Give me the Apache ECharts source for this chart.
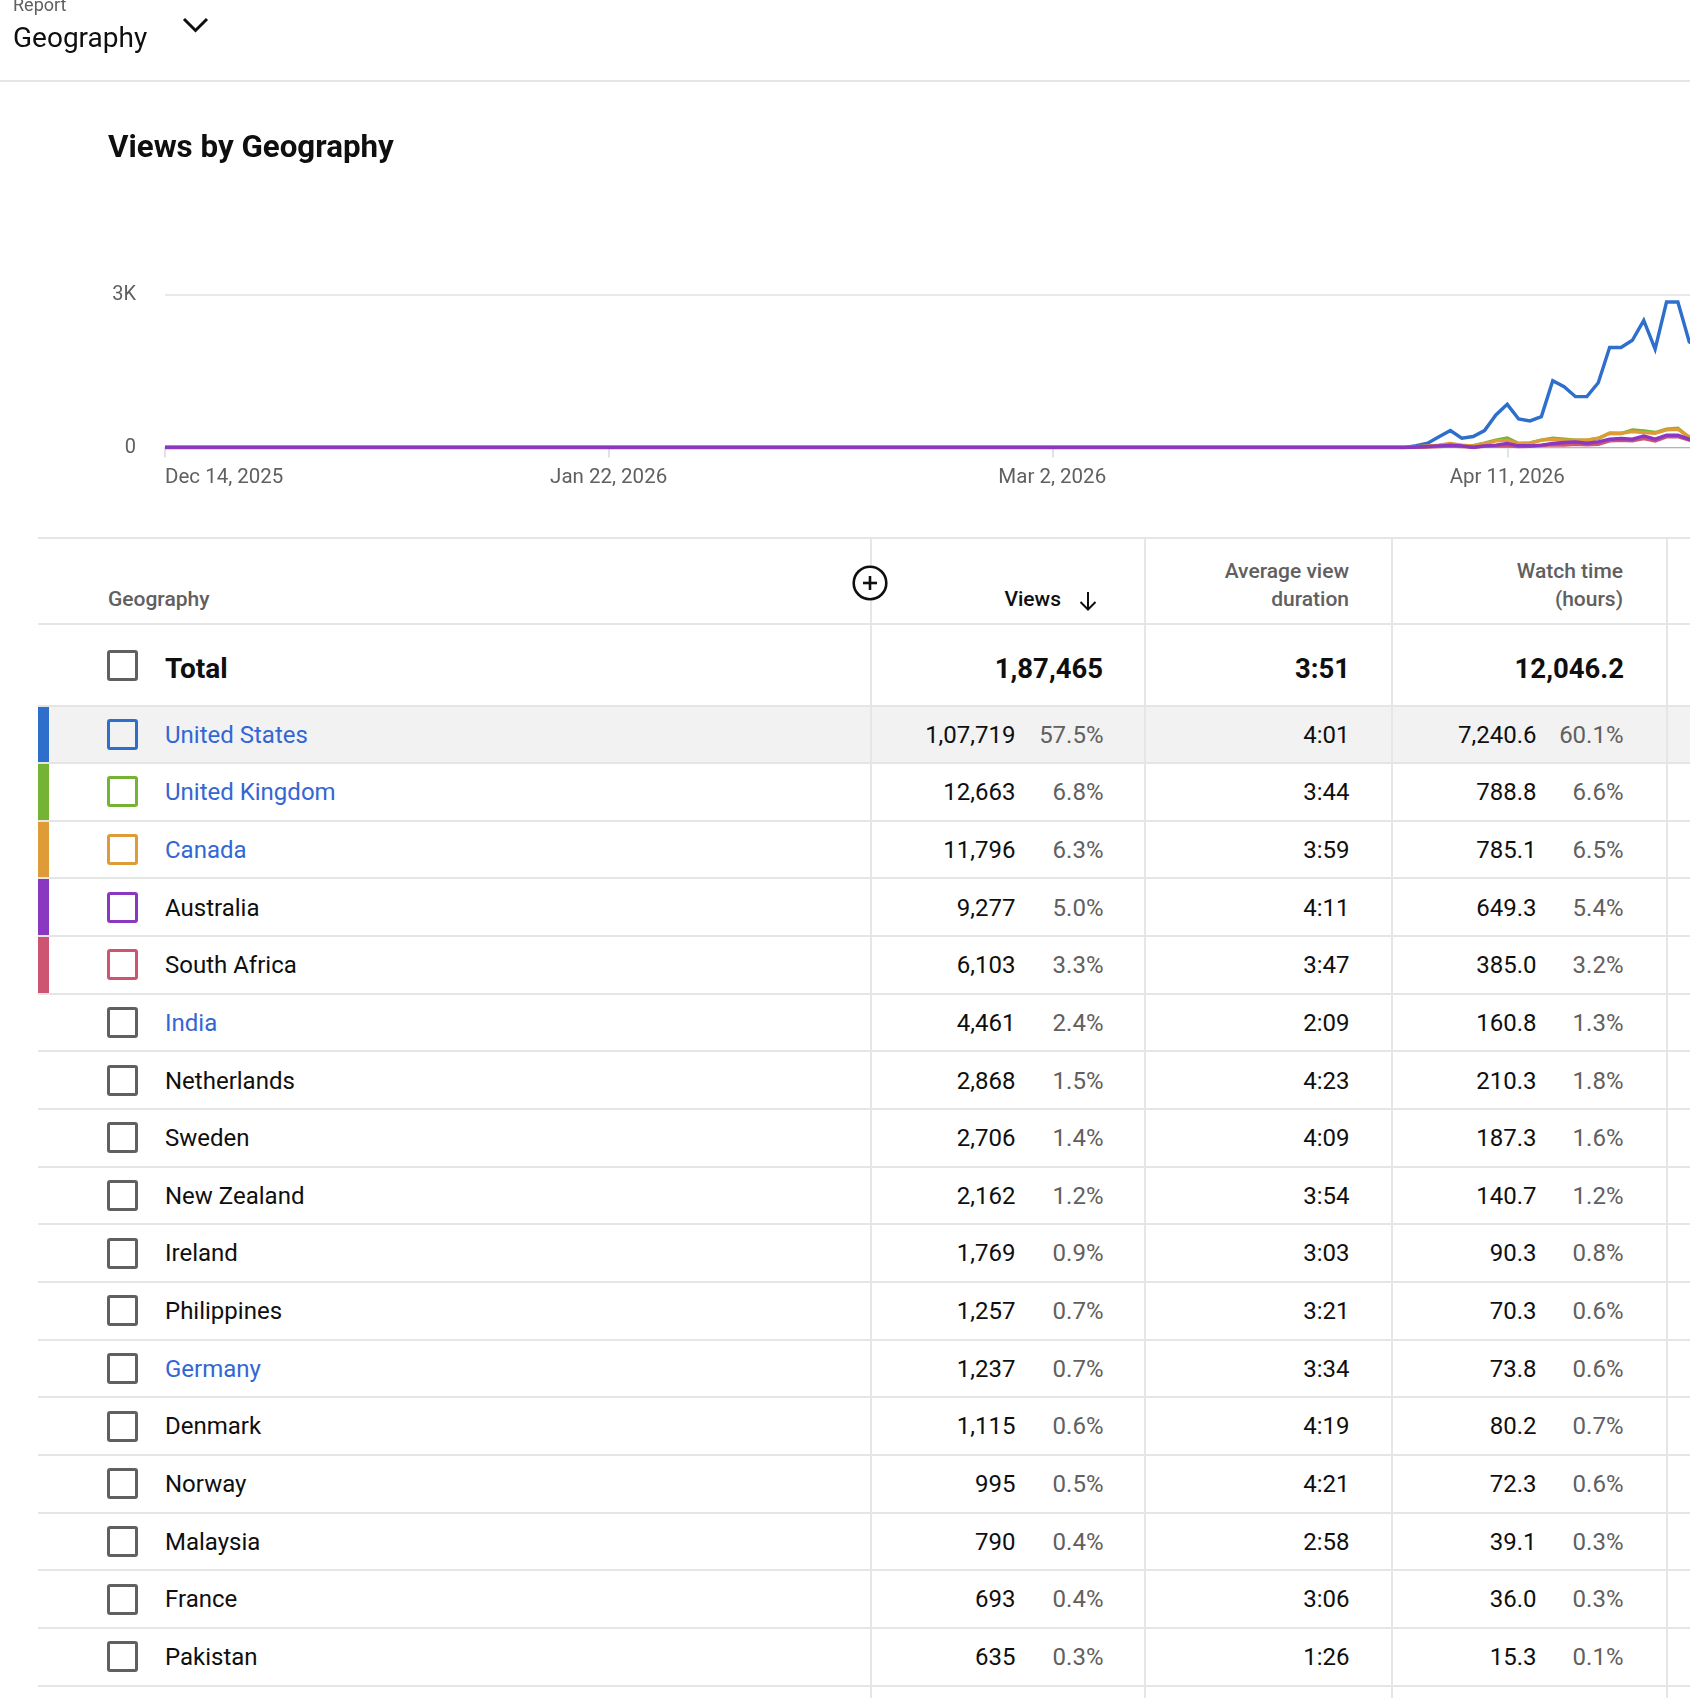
<!DOCTYPE html>
<html>
<head>
<meta charset="utf-8">
<script src="https://cdn.jsdelivr.net/npm/echarts@6/dist/echarts.min.js"></script>
<style>
  html, body { margin: 0; padding: 0; background: #fff; }
  body { width: 1690px; height: 1698px; overflow: hidden; position: relative; font-family: Roboto, "Noto Sans", Arial, sans-serif; }
  .t { position: absolute; white-space: nowrap; }
  .hl { position: absolute; left: 38px; width: 1652px; height: 2px; background: #e5e5e5; }
  .vl { position: absolute; width: 2px; top: 537px; height: 1161px; background: #e6e6e6; }
  .cb { position: absolute; box-sizing: border-box; width: 31px; height: 31px; border: 3px solid #606060; border-radius: 3px; left: 107px; }
  .bar { position: absolute; left: 38px; width: 10.5px; }
  #chart { position: absolute; left: 0; top: 0; width: 1690px; height: 520px; }
</style>
</head>
<body>
<div id="chart"></div>
<script>
// ---------- chart data ----------
const startDate = [2025, 11, 14]; // Dec 14, 2025 (month 0-based)
const dayCount = 137;
const categories = [];
(function () {
  const mn = ['Jan','Feb','Mar','Apr','May','Jun','Jul','Aug','Sep','Oct','Nov','Dec'];
  for (let i = 0; i < dayCount; i++) {
    const d = new Date(Date.UTC(startDate[0], startDate[1], startDate[2] + i));
    categories.push(mn[d.getUTCMonth()] + ' ' + d.getUTCDate() + ', ' + d.getUTCFullYear());
  }
})();
const xTickLabels = ['Dec 14, 2025', 'Jan 22, 2026', 'Mar 2, 2026', 'Apr 11, 2026'];
const yTickValues = [0, 3000];
const yTickLabels = ['0', '3K'];

const usViews = [
0,0,0,0,0,0,0,0,0,0, 0,0,0,0,0,0,0,0,0,0, 0,0,0,0,0,0,0,0,0,0, 0,0,0,0,0,0,0,0,0,0,
0,0,0,0,0,0,0,0,0,0, 0,0,0,0,0,0,0,0,0,0, 0,0,0,0,0,0,0,0,0,0, 0,0,0,0,0,0,0,0,0,0,
0,0,0,0,0,0,0,0,0,0, 0,0,0,0,0,0,0,0,0,0, 0,0,0,0,0,0,0,0,0,
0,35,85,210,333,183,216,333,640,849,562,523,608,1313,1196,1000,1000,1274,1967,1967,2110,2502,1934,2862,2862,2080,1950,1900];
const ukViews = [
0,0,0,0,0,0,0,0,0,0, 0,0,0,0,0,0,0,0,0,0, 0,0,0,0,0,0,0,0,0,0, 0,0,0,0,0,0,0,0,0,0,
0,0,0,0,0,0,0,0,0,0, 0,0,0,0,0,0,0,0,0,0, 0,0,0,0,0,0,0,0,0,0, 0,0,0,0,0,0,0,0,0,0,
0,0,0,0,0,0,0,0,0,0, 0,0,0,0,0,0,0,0,0,0, 0,0,0,0,0,0,0,0,0,
0,10,25,40,60,40,35,85,145,185,80,90,145,183,163,144,144,176,281,274,346,326,294,359,379,196,170,160];
const caViews = [
0,0,0,0,0,0,0,0,0,0, 0,0,0,0,0,0,0,0,0,0, 0,0,0,0,0,0,0,0,0,0, 0,0,0,0,0,0,0,0,0,0,
0,0,0,0,0,0,0,0,0,0, 0,0,0,0,0,0,0,0,0,0, 0,0,0,0,0,0,0,0,0,0, 0,0,0,0,0,0,0,0,0,0,
0,0,0,0,0,0,0,0,0,0, 0,0,0,0,0,0,0,0,0,0, 0,0,0,0,0,0,0,0,0,
0,15,30,46,78,46,33,78,130,144,78,85,144,163,144,144,144,183,281,281,313,294,281,346,359,209,180,170];
const auViews = [
0,0,0,0,0,0,0,0,0,0, 0,0,0,0,0,0,0,0,0,0, 0,0,0,0,0,0,0,0,0,0, 0,0,0,0,0,0,0,0,0,0,
0,0,0,0,0,0,0,0,0,0, 0,0,0,0,0,0,0,0,0,0, 0,0,0,0,0,0,0,0,0,0, 0,0,0,0,0,0,0,0,0,0,
0,0,0,0,0,0,0,0,0,0, 0,0,0,0,0,0,0,0,0,0, 0,0,0,0,0,0,0,0,0,
0,10,20,33,46,33,0,33,46,78,33,33,46,78,98,111,85,111,163,176,163,228,163,242,242,163,140,130];
const zaViews = [
0,0,0,0,0,0,0,0,0,0, 0,0,0,0,0,0,0,0,0,0, 0,0,0,0,0,0,0,0,0,0, 0,0,0,0,0,0,0,0,0,0,
0,0,0,0,0,0,0,0,0,0, 0,0,0,0,0,0,0,0,0,0, 0,0,0,0,0,0,0,0,0,0, 0,0,0,0,0,0,0,0,0,0,
0,0,0,0,0,0,0,0,0,0, 0,0,0,0,0,0,0,0,0,0, 0,0,0,0,0,0,0,0,0,
0,5,10,20,30,20,10,25,30,33,20,25,40,52,46,65,52,65,130,144,130,176,130,209,215,144,120,110];

// ---------- table data ----------
const countries = ['United States','United Kingdom','Canada','Australia','South Africa','India','Netherlands','Sweden','New Zealand','Ireland','Philippines','Germany','Denmark','Norway','Malaysia','France','Pakistan'];
const countryViews = [107719,12663,11796,9277,6103,4461,2868,2706,2162,1769,1257,1237,1115,995,790,693,635];
const viewsPct = [57.5,6.8,6.3,5.0,3.3,2.4,1.5,1.4,1.2,0.9,0.7,0.7,0.6,0.5,0.4,0.4,0.3];
const avgDuration = ['4:01','3:44','3:59','4:11','3:47','2:09','4:23','4:09','3:54','3:03','3:21','3:34','4:19','4:21','2:58','3:06','1:26'];
const watchHours = [7240.6,788.8,785.1,649.3,385.0,160.8,210.3,187.3,140.7,90.3,70.3,73.8,80.2,72.3,39.1,36.0,15.3];
const watchPct = [60.1,6.6,6.5,5.4,3.2,1.3,1.8,1.6,1.2,0.8,0.6,0.6,0.7,0.6,0.3,0.3,0.1];
const linkedCountries = ['United States','United Kingdom','Canada','India','Germany'];
const totalViews = 187465;
const totalDuration = '3:51';
const totalHours = 12046.2;

// ---------- styles ----------
const seriesColors = { 'United States': '#2f6fcc', 'United Kingdom': '#74b333', 'Canada': '#df9b38', 'Australia': '#8a38c2', 'South Africa': '#cd5571' };
const linkColor = '#3366d5';
const dark = '#0f0f0f';
const gray = '#606060';

function inFmt(n, dec) {
  const s = n.toFixed(dec);
  const parts = s.split('.');
  let intPart = parts[0];
  let last3 = intPart.slice(-3);
  const rest = intPart.slice(0, -3);
  if (rest) last3 = rest.replace(/\B(?=(\d{2})+(?!\d))/g, ',') + ',' + last3;
  return parts[1] ? last3 + '.' + parts[1] : last3;
}

function txt(text, o) {
  const d = document.createElement('div');
  d.className = 't';
  d.textContent = text;
  d.style.fontSize = o.size + 'px';
  d.style.lineHeight = o.size + 'px';
  d.style.top = (o.cy - 0.4865 * o.size) + 'px';
  d.style.fontWeight = o.weight || 400;
  d.style.color = o.color || dark;
  if (o.right !== undefined) { d.style.right = (1690 - o.right) + 'px'; d.style.textAlign = 'right'; }
  else d.style.left = o.left + 'px';
  document.body.appendChild(d);
  return d;
}
function box(cls, css) {
  const d = document.createElement('div');
  d.className = cls;
  Object.assign(d.style, css);
  document.body.appendChild(d);
  return d;
}

// ---------- page header ----------
txt('Report', { left: 13, cy: 4.5, size: 18, color: gray });
txt('Geography', { left: 13, cy: 37.7, size: 28 });
document.body.insertAdjacentHTML('beforeend',
  '<svg style="position:absolute;left:0;top:0" width="260" height="60"><polyline points="184,19 195.5,30.5 207,19" fill="none" stroke="#0f0f0f" stroke-width="3"/></svg>');
box('t', { left: '0px', top: '80px', width: '1690px', height: '2px', background: '#e5e5e5' });
txt('Views by Geography', { left: 108, cy: 146.5, size: 31.3, weight: 700 });

// ---------- table ----------
const rowTop0 = 705.5, rowH = 57.65;
const dx = 2; // right-edge correction for value columns
[537, 623].forEach(y => box('hl', { top: y + 'px' }));
box('hl', { top: '705px' });
for (let i = 0; i < countries.length; i++) box('hl', { top: (rowTop0 + (i + 1) * rowH - 1) + 'px' });
box('t', { left: '38px', top: (rowTop0 + 1) + 'px', width: '1652px', height: (rowH - 2) + 'px', background: '#f2f2f2' });
[871, 1145, 1392, 1667].forEach(x => box('vl', { left: (x - 1) + 'px' }));

// header
txt('Geography', { left: 108, cy: 599.5, size: 21, weight: 500, color: gray });
document.body.insertAdjacentHTML('beforeend',
  '<svg style="position:absolute;left:840px;top:555px" width="60" height="60">' +
  '<circle cx="30" cy="28" r="16.3" fill="#fff" stroke="#0f0f0f" stroke-width="2.6"/>' +
  '<line x1="30" y1="21" x2="30" y2="35" stroke="#0f0f0f" stroke-width="2.6"/>' +
  '<line x1="23" y1="28" x2="37" y2="28" stroke="#0f0f0f" stroke-width="2.6"/></svg>');
txt('Views', { right: 1061, cy: 599, size: 21, weight: 500 });
document.body.insertAdjacentHTML('beforeend',
  '<svg style="position:absolute;left:1070px;top:585px" width="40" height="32">' +
  '<line x1="18" y1="7" x2="18" y2="24.5" stroke="#0f0f0f" stroke-width="2"/>' +
  '<polyline points="10.5,17 18,24.5 25.5,17" fill="none" stroke="#0f0f0f" stroke-width="2"/></svg>');
txt('Average view', { right: 1349, cy: 571.5, size: 21, weight: 500, color: gray });
txt('duration', { right: 1349, cy: 599.5, size: 21, weight: 500, color: gray });
txt('Watch time', { right: 1623, cy: 571.5, size: 21, weight: 500, color: gray });
txt('(hours)', { right: 1623, cy: 599.5, size: 21, weight: 500, color: gray });

// total row
box('cb', { top: '649.5px' });
txt('Total', { left: 165, cy: 668.5, size: 28, weight: 700 });
txt(inFmt(totalViews, 0), { right: 1101 + dx, cy: 668.5, size: 27.5, weight: 700 });
txt(totalDuration, { right: 1348 + dx, cy: 668.5, size: 27.5, weight: 700 });
txt(inFmt(totalHours, 1), { right: 1622 + dx, cy: 668.5, size: 27.5, weight: 700 });

// data rows
countries.forEach((c, i) => {
  const top = rowTop0 + i * rowH;
  const cy = top + rowH / 2;
  const col = seriesColors[c];
  if (col) box('bar', { top: (top + 1) + 'px', height: (rowH - 2) + 'px', background: col });
  box('cb', { top: (cy - 15.5) + 'px', borderColor: col || gray });
  txt(c, { left: 165, cy: cy, size: 24, color: linkedCountries.includes(c) ? linkColor : dark });
  txt(inFmt(countryViews[i], 0), { right: 1013.5 + dx, cy: cy, size: 24 });
  txt(viewsPct[i].toFixed(1) + '%', { right: 1101.5 + dx, cy: cy, size: 24, color: gray });
  txt(avgDuration[i], { right: 1347.5 + dx, cy: cy, size: 24 });
  txt(inFmt(watchHours[i], 1), { right: 1534.5 + dx, cy: cy, size: 24 });
  txt(watchPct[i].toFixed(1) + '%', { right: 1621.5 + dx, cy: cy, size: 24, color: gray });
});

// ---------- chart ----------
const chart = echarts.init(document.getElementById('chart'), null, { renderer: 'canvas' });
function lineSeries(name, data, z) {
  return {
    name: name, type: 'line', data: data, z: z,
    showSymbol: false, symbol: 'none', smooth: false,
    lineStyle: { width: 3.4, color: seriesColors[name], join: 'miter' },
    itemStyle: { color: seriesColors[name] },
    emphasis: { disabled: true }
  };
}
const showTick = (idx, val) => xTickLabels.includes(val);
chart.setOption({
  animation: false,
  textStyle: { fontFamily: 'Roboto' },
  grid: { left: 165, top: 295, height: 152.5, right: -22, containLabel: false, outerBoundsMode: 'none' },
  xAxis: {
    type: 'category', data: categories, boundaryGap: false,
    axisLine: { show: true, lineStyle: { color: '#b5b5b5', width: 1 } },
    axisTick: { show: true, interval: showTick, length: 10, lineStyle: { color: '#e2e2e2', width: 2 } },
    axisLabel: { interval: showTick, color: gray, fontSize: 20.5, margin: 19.5, fontFamily: 'Roboto', alignMinLabel: 'left', hideOverlap: false },
    splitLine: { show: false }
  },
  yAxis: {
    type: 'value', min: 0, max: 3000, interval: 3000,
    axisLine: { show: false }, axisTick: { show: false },
    axisLabel: { color: gray, fontSize: 20, margin: 29, fontFamily: 'Roboto', padding: [7, 0, 0, 0],
      formatter: v => yTickLabels[yTickValues.indexOf(v)] },
    splitLine: { show: true, lineStyle: { color: '#e9e9e9', width: 2 } }
  },
  series: [
    lineSeries('United States', usViews, 2),
    lineSeries('United Kingdom', ukViews, 3),
    lineSeries('Canada', caViews, 4),
    lineSeries('South Africa', zaViews, 5),
    lineSeries('Australia', auViews, 6)
  ]
});
</script>
</body>
</html>
